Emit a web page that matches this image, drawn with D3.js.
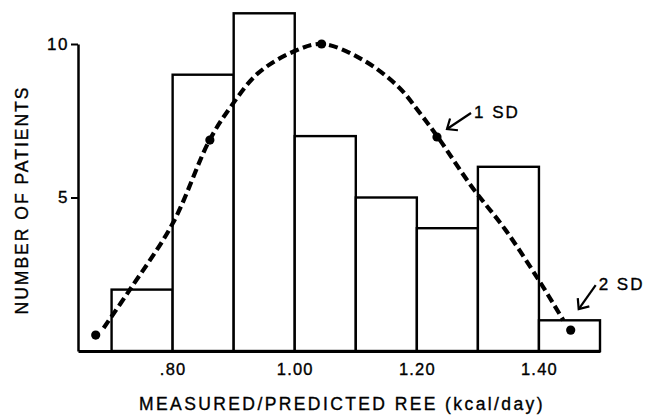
<!DOCTYPE html>
<html>
<head>
<meta charset="utf-8">
<script src="https://cdn.jsdelivr.net/npm/d3@7"></script>
<style>
  html, body { margin: 0; padding: 0; background: #fff; }
  svg text { font-family: "Liberation Sans", Arial, Helvetica, sans-serif; fill: #000; stroke: #000; stroke-width: 0.35px; }
</style>
</head>
<body>
<svg id="chart" width="650" height="416"></svg>
<script>
// ---- data ----
const binStarts = [0.70, 0.80, 0.90, 1.00, 1.10, 1.20, 1.30, 1.40];
const binWidth = 0.10;
const counts = [2, 9, 11, 7, 5, 4, 6, 1];

// hand-drawn normal curve
const curveX = [0.687, 0.73, 0.80, 0.86, 0.895, 0.94, 1.00, 1.045, 1.11, 1.17, 1.205, 1.235, 1.29, 1.345, 1.40, 1.44];
const curveY = [0.75, 2.0, 4.15, 6.85, 7.95, 9.05, 9.77, 10.0, 9.5, 8.6, 7.75, 6.95, 5.35, 3.95, 2.3, 1.0];

// mean and SD markers
const sdX = [0.674, 0.861, 1.044, 1.233, 1.452];
const sdY = [0.52, 6.87, 10.0, 6.97, 0.68];

const xTicks = [0.80, 1.00, 1.20, 1.40];
const xTickLabels = [".80", "1.00", "1.20", "1.40"];
const yTicks = [5, 10];
const yTickLabels = ["5", "10"];

const xTitle = "MEASURED/PREDICTED REE (kcal/day)";
const yTitle = "NUMBER OF PATIENTS";
const annotations = ["1 SD", "2 SD"];

// ---- drawing ----
const svg = d3.select("#chart");
const x = d3.scaleLinear().domain([0.645, 1.5]).range([78, 600]);
const y = d3.scaleLinear().domain([0, 10]).range([351, 44]);

// bars
svg.append("g").selectAll("rect")
  .data(counts)
  .join("rect")
  .attr("x", (d, i) => x(binStarts[i]))
  .attr("width", (d, i) => x(binStarts[i] + binWidth) - x(binStarts[i]))
  .attr("y", d => y(d))
  .attr("height", d => y(0) - y(d))
  .attr("fill", "#fff")
  .attr("stroke", "#000")
  .attr("stroke-width", 2.4);

// y axis
const yAxis = d3.axisLeft(y)
  .tickValues(yTicks)
  .tickFormat((d, i) => yTickLabels[i])
  .tickSize(7).tickSizeOuter(0).tickPadding(4);
const gy = svg.append("g").attr("transform", `translate(${x(0.645)},0)`).call(yAxis);
gy.select(".domain").attr("stroke-width", 2.5);
gy.selectAll(".tick line").attr("stroke-width", 2);
gy.selectAll(".tick text")
  .style("font-size", "17px").style("letter-spacing", "1.5px").attr("dx", "2px");

// x axis
const xAxis = d3.axisBottom(x)
  .tickValues(xTicks)
  .tickFormat((d, i) => xTickLabels[i])
  .tickSize(0).tickSizeOuter(0).tickPadding(12);
const gx = svg.append("g").attr("transform", `translate(0,${y(0)})`).call(xAxis);
gx.select(".domain").attr("stroke-width", 3);
gx.selectAll(".tick text")
  .style("font-size", "16.5px").style("letter-spacing", "1.2px");

// dashed curve
const pts = curveX.map((v, i) => [v, curveY[i]]);
const line = d3.line().x(d => x(d[0])).y(d => y(d[1])).curve(d3.curveCatmullRom.alpha(0.5));
svg.append("path")
  .attr("d", line(pts))
  .attr("fill", "none")
  .attr("stroke", "#000")
  .attr("stroke-width", 4.2)
  .attr("stroke-dasharray", "9,4.5");

// SD dots
svg.append("g").selectAll("circle")
  .data(sdX)
  .join("circle")
  .attr("cx", d => x(d))
  .attr("cy", (d, i) => y(sdY[i]))
  .attr("r", 4.6)
  .attr("fill", "#000");

// annotation arrows (tip and tail offsets relative to the marked dot)
const annSpec = [
  { idx: 3, tip: [10, -8], tail: [34, -24] },
  { idx: 4, tip: [8, -21], tail: [25, -45] }
];
annSpec.forEach((a, k) => {
  const cx = x(sdX[a.idx]), cy = y(sdY[a.idx]);
  const tx = cx + a.tip[0], ty = cy + a.tip[1];
  const lx = cx + a.tail[0], ly = cy + a.tail[1];
  const g = svg.append("g").attr("stroke", "#000").attr("stroke-width", 2.2).attr("fill", "none");
  g.append("line").attr("x1", lx).attr("y1", ly).attr("x2", tx).attr("y2", ty);
  const ang = Math.atan2(ly - ty, lx - tx);
  const L = 11, spread = 0.7;
  g.append("path")
    .attr("d", `M${tx + L * Math.cos(ang - spread)},${ty + L * Math.sin(ang - spread)} L${tx},${ty} L${tx + L * Math.cos(ang + spread)},${ty + L * Math.sin(ang + spread)}`);
  svg.append("text")
    .attr("x", lx + 3).attr("y", ly + 5)
    .style("font-size", "17px").style("letter-spacing", "2px")
    .text(annotations[k]);
});

// axis titles
svg.append("text")
  .attr("x", 342).attr("y", 410)
  .attr("text-anchor", "middle")
  .style("font-size", "17.5px").style("letter-spacing", "2.4px")
  .text(xTitle);

svg.append("text")
  .attr("transform", "translate(28,200) rotate(-90)")
  .attr("text-anchor", "middle")
  .style("font-size", "17.5px").style("letter-spacing", "2px")
  .text(yTitle);
</script>
</body>
</html>
